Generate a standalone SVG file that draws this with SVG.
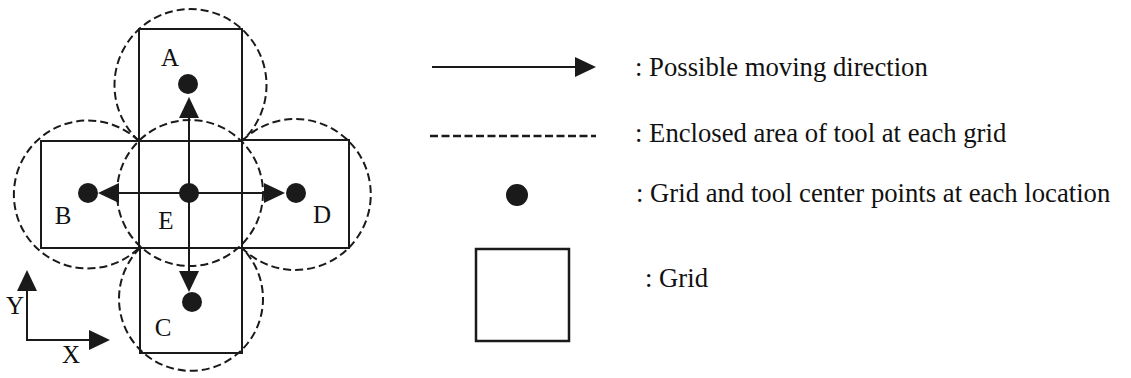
<svg xmlns="http://www.w3.org/2000/svg" width="1131" height="378" viewBox="0 0 1131 378">
<style>
.grid{fill:none;stroke:#1a1a1a;stroke-width:2}
.tool{fill:none;stroke:#1a1a1a;stroke-width:2;stroke-dasharray:8 4}
.dot{fill:#1a1a1a}
.lbl{font-family:"Liberation Serif","Times New Roman",serif;font-size:25px;fill:#111;text-anchor:middle}
.leg{font-family:"Liberation Serif","Times New Roman",serif;font-size:26.7px;fill:#111}
.arr{stroke:#1a1a1a;stroke-width:2;fill:none;marker-end:url(#head)}
</style>
<defs>
<marker id="head" markerUnits="userSpaceOnUse" markerWidth="22" markerHeight="22" refX="2" refY="10" orient="auto" viewBox="0 0 22 20">
<path d="M0,0 L21,10 L0,20 z" fill="#1a1a1a"/>
</marker>
</defs>
<rect width="1131" height="378" fill="#fff"/>
<g id="node-A">
<rect class="grid" x="139" y="29" width="103" height="112"/>
<path class="tool" d="M139,141 A76,76 0 1 1 242,141"/>
<circle class="dot" cx="188" cy="84" r="10"/>
<text class="lbl" x="170" y="66">A</text>
</g>
<g id="node-B">
<rect class="grid" x="41" y="141" width="98" height="107"/>
<path class="tool" d="M139,141 A74,74 0 1 0 139,248"/>
<circle class="dot" cx="88" cy="193" r="10"/>
<text class="lbl" x="63" y="224">B</text>
</g>
<g id="node-E">
<rect class="grid" x="139" y="141" width="103" height="107"/>
<circle class="tool" cx="190" cy="193" r="73"/>
<circle class="dot" cx="189" cy="193" r="10"/>
<text class="lbl" x="166" y="229">E</text>
</g>
<g id="node-D">
<rect class="grid" x="242" y="140" width="107" height="108"/>
<path class="tool" d="M242,141 A75.5,75.5 0 1 1 242,248"/>
<circle class="dot" cx="296" cy="193" r="10"/>
<text class="lbl" x="322" y="223">D</text>
</g>
<g id="node-C">
<rect class="grid" x="140" y="248" width="102" height="105"/>
<path class="tool" d="M140,248 A72,72 0 1 0 242,248"/>
<circle class="dot" cx="192" cy="302" r="10"/>
<text class="lbl" x="163" y="336">C</text>
</g>
<g id="connectors">
<line class="arr" x1="189" y1="193" x2="189" y2="116"/>
<line class="arr" x1="189" y1="193" x2="117" y2="193"/>
<line class="arr" x1="189" y1="193" x2="266" y2="193"/>
<line class="arr" x1="189" y1="193" x2="189" y2="273"/>
</g>
<g id="axes">
<line class="arr" x1="27" y1="341" x2="27" y2="289"/>
<line class="arr" x1="26" y1="340" x2="91" y2="340"/>
<text class="lbl" x="15" y="314">Y</text>
<text class="lbl" x="71" y="363">X</text>
</g>
<g id="legend">
<line class="arr" x1="432" y1="67" x2="577" y2="67"/>
<line x1="430" y1="136" x2="596" y2="136" stroke="#1a1a1a" stroke-width="2.5" stroke-dasharray="8 3.5"/>
<circle class="dot" cx="517" cy="195" r="11"/>
<rect x="476" y="249" width="93" height="92" fill="none" stroke="#1a1a1a" stroke-width="2.5"/>
<text class="leg" x="635" y="76">: Possible moving direction</text>
<text class="leg" x="635" y="142">: Enclosed area of tool at each grid</text>
<text class="leg" x="636" y="202">: Grid and tool center points at each location</text>
<text class="leg" x="645" y="287">: Grid</text>
</g>
</svg>
